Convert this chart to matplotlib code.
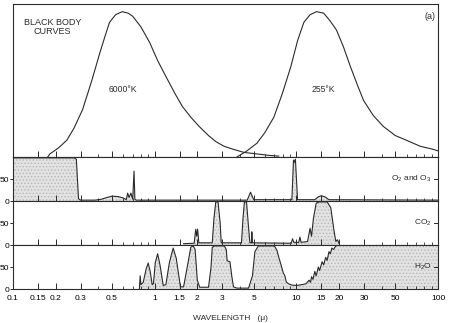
import matplotlib
matplotlib.use('Agg')
import matplotlib.pyplot as plt
from matplotlib.ticker import FixedLocator, FixedFormatter, NullFormatter


# Black body curves (normalised)
bb6000_wl = [0.176, 0.182, 0.21, 0.24, 0.27, 0.31, 0.36, 0.41, 0.45, 0.48, 0.53,
             0.59, 0.65, 0.70, 0.80, 0.92, 1.05, 1.21, 1.4, 1.57, 1.8, 2.06,
             2.4, 2.71, 3.09, 3.6, 4.27, 5.27, 6.5, 7.5]
bb6000_val = [0.0, 0.02, 0.06, 0.11, 0.19, 0.31, 0.50, 0.68, 0.80, 0.88, 0.93,
              0.95, 0.94, 0.92, 0.85, 0.75, 0.63, 0.52, 0.41, 0.33, 0.26, 0.20,
              0.14, 0.10, 0.07, 0.05, 0.03, 0.02, 0.01, 0.006]

bb255_wl = [3.81, 4.48, 5.27, 6.0, 6.94, 8.0, 9.14, 10.2, 11.3, 12.5, 13.9,
            15.6, 17.3, 19.2, 21.5, 24.1, 27.0, 29.8, 35.0, 41.1, 50.0, 59.7,
            75.0, 92.5, 100.0]
bb255_val = [0.0, 0.04, 0.09, 0.16, 0.26, 0.42, 0.59, 0.76, 0.88, 0.93, 0.95,
             0.94, 0.89, 0.83, 0.72, 0.59, 0.47, 0.37, 0.27, 0.20, 0.14, 0.11,
             0.07, 0.05, 0.04]

# Absorption (%) of O2 and O3
o3_wl = [0.1, 0.27, 0.28, 0.285, 0.29, 0.30, 0.38, 0.42, 0.46, 0.50, 0.55,
         0.60, 0.63, 0.645, 0.66, 0.68, 0.70, 0.715, 0.725, 0.74, 4.5, 4.75,
         5.0, 9.3, 9.55, 9.7, 9.85, 10.2, 13.5, 14.2, 15.0, 16.0, 17.0, 100.0]
o3_val = [98, 98, 95, 50, 5, 2, 2, 4, 8, 11, 10,
          7, 3, 18, 8, 18, 4, 68, 4, 2, 2, 20,
          3, 3, 93, 88, 95, 3, 3, 9, 12, 9, 3, 2]

# Absorption (%) of CO2
co2_wl = [1.6, 1.9, 1.95, 1.98, 2.01, 2.05, 2.55, 2.62, 2.7, 2.8, 2.9, 2.95,
          4.1, 4.2, 4.3, 4.45, 4.6, 4.7, 4.82, 4.85, 4.9, 9.2, 9.4, 9.6,
          10.4, 10.6, 10.8, 12.0, 12.5, 12.8, 13.2, 13.8, 14.5, 16.5, 17.5,
          18.5, 19.0, 19.5, 20.0]
co2_val = [3, 4, 36, 20, 36, 5, 5, 60, 98, 98, 50, 5,
           5, 60, 98, 98, 40, 5, 5, 30, 5, 4, 14, 6,
           6, 18, 6, 8, 38, 20, 60, 95, 98, 98, 85,
           30, 8, 12, 4]

# Absorption (%) of H2O
h2o_wl = [0.78, 0.79, 0.80, 0.83, 0.87, 0.90, 0.93, 0.96, 0.98, 1.01, 1.05,
          1.09, 1.15, 1.2, 1.27, 1.35, 1.42, 1.52, 1.6, 1.72, 1.8, 1.87,
          1.93, 2.0, 2.08, 2.4, 2.5, 2.55, 2.65, 3.1, 3.2, 3.25, 3.4, 3.5,
          3.6, 3.8, 4.6, 4.9, 5.1, 5.4, 7.0, 7.3, 7.5, 7.8, 8.1, 8.3, 8.5,
          8.8, 9.3, 10.0, 11.0, 11.7, 12.3, 12.6, 12.8, 13.1, 13.5, 13.8,
          14.3, 14.6, 15.2, 15.6, 16.1, 16.5, 17.0, 17.4, 17.8, 18.3, 19.2,
          100.0]
h2o_val = [0, 30, 10, 15, 45, 59, 40, 10, 12, 60, 80,
           55, 8, 10, 60, 93, 70, 5, 5, 60, 95, 98,
           90, 20, 4, 4, 50, 95, 98, 98, 90, 64, 62, 30,
           5, 2, 2, 30, 85, 98, 98, 88, 73, 55, 36, 30, 16,
           12, 9, 8, 10, 12, 20, 15, 28, 22, 40, 30,
           50, 42, 62, 55, 72, 65, 85, 80, 93, 90, 100,
           100]

# Axis ticks
major_ticks = [0.1, 0.15, 0.2, 0.3, 0.5, 1, 1.5, 2, 3, 5, 10, 15, 20, 30, 50, 100]
major_labels = ['0.1', '0.15', '0.2', '0.3', '0.5', '1', '1.5', '2', '3', '5',
                '10', '15', '20', '30', '50', '100']
minor_ticks = [0.4, 0.6, 0.7, 0.8, 0.9, 4, 6, 7, 8, 9, 40, 60, 70, 80, 90]
pct_ticks = [0, 50]
pct_labels = ['0', '50']

plt.rcParams['font.family'] = ['Liberation Sans', 'DejaVu Sans']
plt.rcParams['mathtext.default'] = 'regular'

LINE = '#2b2b2b'
FILL = '#e2e2e2'
HATCH = '#b8b8b8'
plt.rcParams['hatch.linewidth'] = 0.6

fig = plt.figure(figsize=(4.5, 3.23), dpi=100)

left = 13 / 450
width = 425 / 450


def fy(px):
    return 1 - px / 323


def setup_x(ax, labels):
    ax.set_xscale('log')
    ax.set_xlim(0.1, 100)
    ax.xaxis.set_major_locator(FixedLocator(major_ticks))
    ax.xaxis.set_minor_locator(FixedLocator(minor_ticks))
    if labels:
        ax.xaxis.set_major_formatter(FixedFormatter(major_labels))
    else:
        ax.xaxis.set_major_formatter(NullFormatter())
    ax.xaxis.set_minor_formatter(NullFormatter())
    ax.tick_params(axis='x', which='major', direction='in', length=4,
                   width=0.7, color=LINE, labelsize=6, pad=4)
    ax.tick_params(axis='x', which='minor', direction='in', length=2.5,
                   width=0.6, color=LINE)
    for s in ax.spines.values():
        s.set_linewidth(0.8)
        s.set_color(LINE)


# Black body panel
ax_bb = fig.add_axes([left, fy(157), width, fy(4) - fy(157)])
setup_x(ax_bb, False)
ax_bb.set_ylim(0, 1)
ax_bb.set_yticks([])
ax_bb.plot(bb6000_wl, bb6000_val, color=LINE, lw=0.8)
ax_bb.plot(bb255_wl, bb255_val, color=LINE, lw=0.8)
ax_bb.text(0.19, 0.85, 'BLACK BODY\nCURVES', ha='center', va='center',
           fontsize=6.5, linespacing=1.1, color=LINE)
ax_bb.text(0.6, 0.44, '6000°K', ha='center', va='center', fontsize=6.2, color=LINE)
ax_bb.text(15.5, 0.44, '255°K', ha='center', va='center', fontsize=6.2, color=LINE)
ax_bb.text(88, 0.92, '(a)', ha='center', va='center', fontsize=6.5, color=LINE)

panels = [
    (157, 201, o3_wl, o3_val, 'O$_2$ and O$_3$'),
    (201, 245, co2_wl, co2_val, 'CO$_2$'),
    (245, 289, h2o_wl, h2o_val, 'H$_2$O'),
]

for i, (top, bottom, wl, val, name) in enumerate(panels):
    ax = fig.add_axes([left, fy(bottom), width, fy(top) - fy(bottom)])
    setup_x(ax, i == len(panels) - 1)
    ax.set_ylim(0, 100)
    ax.fill_between(wl, 0, val, facecolor=FILL, edgecolor=HATCH,
                    hatch='.....', linewidth=0)
    ax.plot(wl, val, color=LINE, lw=0.8)
    ax.set_yticks(pct_ticks)
    ax.set_yticklabels(pct_labels)
    ax.tick_params(axis='y', direction='out', length=2, width=0.7,
                   color=LINE, labelsize=6, pad=0.5)
    ax.text(0.985, 0.5, name, transform=ax.transAxes, ha='right',
            va='center', fontsize=6, color=LINE)
    ax.plot([0.99, 1.0], [0.5, 0.5], transform=ax.transAxes, color=LINE,
            lw=0.7, clip_on=False)

fig.text(230 / 450, fy(319), 'WAVELENGTH   (μ)', ha='center', va='center',
         fontsize=6, color=LINE)

fig.savefig('out.png', dpi=100)
